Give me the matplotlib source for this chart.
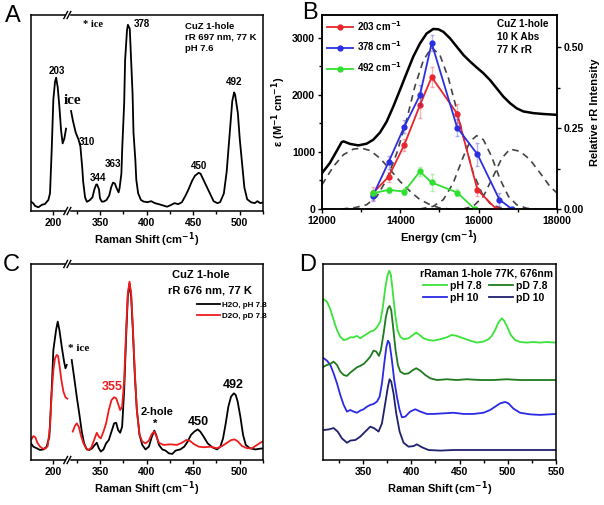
import numpy as np
import matplotlib
matplotlib.use('Agg')
import matplotlib.pyplot as plt
from matplotlib.patches import Rectangle

# ---------------- Panel A: CuZ 1-hole, rR 697 nm, 77 K, pH 7.6 ----------------
# Raman shift (cm-1) and normalised intensity, two pieces around the axis break
a_left_x = [176, 178.5, 180.3, 183.9, 187.5, 191, 194.6, 196.4, 198.2, 200, 201.8, 203, 204.7, 206.5,
            208.3, 210, 211.8, 213.6]
a_left_y = [0.048, 0.039, 0.026, 0.019, 0.031, 0.036, 0.056, 0.09, 0.31, 0.57, 0.66, 0.68, 0.63, 0.53,
            0.41, 0.345, 0.37, 0.42]
a_right_x = [319, 321, 324, 327, 329, 331, 332, 334, 336, 339, 342, 344, 346, 347, 349, 350, 352, 354,
             357, 360, 362, 364, 366, 368, 370, 371, 373, 374, 376, 377, 379, 380, 382, 383, 385, 386,
             388, 389, 391, 394, 397, 401, 405, 409, 413, 418, 422, 426, 430, 434, 438, 442, 445, 449,
             452, 456, 458, 461, 465, 469, 472, 476, 479, 483, 486, 489, 492, 494, 495, 498, 500, 503,
             505, 508, 512, 516, 519, 522, 526]
a_right_y = [0.51, 0.46, 0.40, 0.365, 0.33, 0.22, 0.15, 0.07, 0.047, 0.055, 0.07, 0.11, 0.135, 0.135,
             0.11, 0.065, 0.048, 0.048, 0.056, 0.08, 0.12, 0.145, 0.14, 0.115, 0.095, 0.115, 0.19, 0.33,
             0.55, 0.77, 0.92, 0.95, 0.93, 0.82, 0.6, 0.4, 0.26, 0.16, 0.09, 0.056, 0.048, 0.045, 0.05,
             0.04, 0.035, 0.028, 0.022, 0.03, 0.04, 0.035, 0.045, 0.08, 0.11, 0.155, 0.18, 0.195, 0.19,
             0.16, 0.12, 0.08, 0.05, 0.04, 0.045, 0.09, 0.2, 0.38, 0.56, 0.605, 0.595, 0.5, 0.37, 0.22,
             0.12, 0.06, 0.045, 0.04, 0.05, 0.04, 0.045]

# ---------------- Panel B: absorption, Gaussian bands, rR profiles ----------------
abs_e = [12000, 12200, 12370, 12500, 12550, 12720, 12930, 13140, 13310, 13480, 13650, 13820, 13990,
         14160, 14330, 14500, 14670, 14840, 14970, 15100, 15270, 15440, 15610, 15780, 15950, 16120,
         16290, 16460, 16630, 16800, 16970, 17140, 17400, 17650, 18000]
abs_eps = [630, 805, 1010, 1170, 1185, 1140, 1115, 1145, 1215, 1340, 1530, 1795, 2085, 2380, 2670,
           2900, 3075, 3155, 3150, 3105, 2990, 2845, 2700, 2585, 2480, 2380, 2260, 2115, 1970, 1855,
           1765, 1710, 1680, 1665, 1650]

band1_e = [12000, 12290, 12545, 12800, 13010, 13230, 13480, 13740, 13990, 14250, 14500, 14760, 15010, 15270]
band1_eps = [425, 745, 950, 1050, 1065, 1025, 890, 690, 485, 310, 165, 75, 17, 0]
band2_e = [12500, 12850, 13140, 13400, 13650, 13910, 14160, 14370, 14590, 14800, 15010, 15230, 15440,
           15650, 15860, 16080, 16290, 16550, 16900]
band2_eps = [0, 25, 75, 220, 515, 980, 1560, 2145, 2610, 2830, 2700, 2290, 1740, 1155, 630, 280, 95, 17, 0]
band3_e = [14500, 14840, 15100, 15350, 15610, 15780, 15950, 16120, 16330, 16550, 16760, 16970, 17230, 17500]
band3_eps = [0, 47, 165, 455, 920, 1185, 1285, 1215, 920, 515, 220, 75, 12, 0]
band4_e = [15600, 15860, 16120, 16370, 16590, 16800, 17060, 17310, 17570, 17820, 18000]
band4_eps = [0, 47, 220, 570, 890, 1050, 1010, 865, 630, 395, 280]

rr_e_203 = [13300, 13700, 14100, 14500, 14800, 15450, 15970, 16450]
rr_203 = [0.049, 0.10, 0.198, 0.321, 0.408, 0.295, 0.059, 0.0]
err_203 = [0.02, 0.015, 0.02, 0.04, 0.03, 0.03, 0.02, 0.0]
rr_e_378 = [13300, 13700, 14100, 14500, 14800, 15450, 15970, 16530, 16850]
rr_378 = [0.041, 0.145, 0.254, 0.352, 0.513, 0.252, 0.169, 0.029, 0.0]
err_378 = [0.015, 0.02, 0.02, 0.03, 0.025, 0.025, 0.035, 0.02, 0.0]
rr_e_492 = [13300, 13700, 14100, 14500, 14800, 15450, 15900]
rr_492 = [0.049, 0.059, 0.054, 0.116, 0.082, 0.051, 0.0]
err_492 = [0.01, 0.01, 0.01, 0.015, 0.025, 0.01, 0.0]

# ---------------- Panel C: 676 nm, H2O vs D2O ----------------
c_h2o_left_x = [176, 178.5, 182.1, 185.7, 189.3, 192.8, 195.7, 198.2, 200, 202.9, 204.7, 206.5, 209,
                211.5, 213, 214.4]
c_h2o_left_y = [0.085, 0.068, 0.06, 0.051, 0.054, 0.068, 0.119, 0.357, 0.561, 0.663, 0.706, 0.663,
                0.578, 0.502, 0.468, 0.485]
c_h2o_right_x = [319.7, 322.2, 325.1, 328, 330.5, 333, 335.9, 338.7, 341.6, 344.5, 346.6, 348.8,
                 350.9, 353.8, 356.6, 359.5, 362.4, 365.2, 367.4, 369.5, 371.7, 373.8, 376, 378.1,
                 379.9, 381.7, 383.5, 385.3, 387.5, 389.6, 392.5, 395.4, 398.9, 402.5, 405.7, 408.3,
                 410.4, 413.3, 416.9, 420.4, 424, 427.6, 431.2, 436.2, 440.5, 444.1, 447.7, 451.3,
                 454.9, 457.7, 461.3, 465.6, 470.6, 475.6, 479.2, 482.1, 485, 487.8, 490.7, 493.6,
                 495.7, 497.8, 500.7, 503.6, 506.5, 510.8, 516.9, 522.2, 526.5]
c_h2o_right_y = [0.51, 0.425, 0.323, 0.23, 0.145, 0.085, 0.054, 0.051, 0.06, 0.077, 0.088, 0.06,
                 0.043, 0.054, 0.085, 0.102, 0.145, 0.187, 0.19, 0.153, 0.139, 0.17, 0.357, 0.629,
                 0.833, 0.901, 0.833, 0.663, 0.425, 0.255, 0.128, 0.077, 0.054, 0.068, 0.119, 0.15,
                 0.128, 0.077, 0.054, 0.048, 0.034, 0.031, 0.048, 0.054, 0.068, 0.094, 0.128, 0.145,
                 0.156, 0.145, 0.119, 0.085, 0.065, 0.054, 0.068, 0.11, 0.187, 0.272, 0.323, 0.34,
                 0.332, 0.298, 0.221, 0.128, 0.077, 0.06, 0.054, 0.058, 0.06]
c_d2o_left_x = [176, 178.5, 180.7, 182.8, 185.7, 188.5, 191.4, 193.9, 196.4, 198.2, 200, 201.8,
                203.6, 205, 206.5, 208.6, 210.8, 213, 215]
c_d2o_left_y = [0.102, 0.122, 0.116, 0.088, 0.068, 0.058, 0.058, 0.071, 0.17, 0.34, 0.459, 0.519,
                0.536, 0.531, 0.485, 0.408, 0.349, 0.32, 0.313]
c_d2o_right_x = [320.8, 323, 325.1, 327.3, 329.4, 332.3, 335.1, 338, 340.9, 343.7, 346.6, 348.8,
                 350.9, 353.8, 356.6, 359.5, 362.4, 365.2, 367.4, 369.5, 371.7, 373.8, 376, 378.1,
                 379.9, 381.7, 383.5, 385.3, 387.5, 389.6, 392.5, 395.4, 398.9, 402.5, 405.7, 408.3,
                 410.4, 413.3, 418.3, 425.5, 432.6, 438, 442.6, 446.3, 450.6, 456, 462, 468.5, 475.6,
                 481, 486.4, 491, 494.6, 498.2, 502.5, 507.9, 513.3, 518.6, 522.2, 526.5]
c_d2o_right_y = [0.145, 0.173, 0.187, 0.17, 0.128, 0.085, 0.06, 0.051, 0.065, 0.102, 0.139, 0.119,
                 0.11, 0.145, 0.187, 0.255, 0.306, 0.32, 0.315, 0.286, 0.255, 0.272, 0.408, 0.663,
                 0.85, 0.91, 0.85, 0.68, 0.442, 0.255, 0.128, 0.094, 0.085, 0.099, 0.133, 0.145,
                 0.122, 0.088, 0.077, 0.08, 0.077, 0.088, 0.102, 0.099, 0.082, 0.068, 0.065, 0.068,
                 0.06, 0.071, 0.088, 0.102, 0.105, 0.094, 0.071, 0.06, 0.06, 0.077, 0.088, 0.099]

# ---------------- Panel D: rRaman 1-hole 77K, 676nm (stacked) ----------------
d_ph78_x = [309.2, 312.6, 316.1, 319.5, 323, 326.4, 329.9, 333.3, 336.8, 340.2, 343.7, 347.1, 350.6,
            354, 357.5, 360.9, 364.4, 367.9, 370.6, 373, 375.4, 377.2, 378.9, 381, 383.4, 385.8,
            388.6, 392, 397.2, 401.7, 405.1, 408.6, 412.7, 417.9, 423.1, 430, 436.9, 442, 447.2,
            454.1, 461, 467.9, 474.8, 480, 483.4, 486.9, 490.3, 493.8, 496.2, 499.7, 503.1, 507.6,
            512.8, 519.7, 526.6, 533.5, 540.4, 550]
d_ph78_y = [0.82, 0.808, 0.769, 0.714, 0.663, 0.629, 0.612, 0.616, 0.626, 0.626, 0.633, 0.621, 0.633,
            0.643, 0.655, 0.66, 0.677, 0.706, 0.782, 0.876, 0.944, 0.966, 0.944, 0.85, 0.74, 0.663,
            0.629, 0.616, 0.621, 0.638, 0.65, 0.638, 0.621, 0.612, 0.609, 0.616, 0.626, 0.638, 0.633,
            0.621, 0.609, 0.599, 0.604, 0.616, 0.633, 0.663, 0.701, 0.723, 0.711, 0.677, 0.638, 0.612,
            0.602, 0.599, 0.602, 0.599, 0.602, 0.599]
d_pd78_x = [309.2, 312.6, 316.1, 319.5, 323, 326.4, 329.9, 333.3, 336.8, 340.2, 343.7, 347.1, 350.6,
            354, 357.5, 360.9, 363.7, 366.5, 368.5, 371.3, 373.7, 375.8, 377.5, 379.2, 381.3, 383.7,
            386.1, 388.6, 392.7, 397.2, 401.7, 405.1, 409.3, 414.4, 419.6, 426.5, 436.9, 447.2,
            457.6, 471.4, 485.2, 499, 512.8, 526.6, 550]
d_pd78_y = [0.476, 0.485, 0.49, 0.502, 0.485, 0.451, 0.434, 0.429, 0.446, 0.459, 0.473, 0.48, 0.49,
            0.507, 0.527, 0.558, 0.553, 0.531, 0.561, 0.646, 0.731, 0.774, 0.786, 0.765, 0.672, 0.561,
            0.485, 0.451, 0.439, 0.442, 0.459, 0.468, 0.456, 0.434, 0.417, 0.408, 0.412, 0.408,
            0.412, 0.408, 0.408, 0.412, 0.408, 0.408, 0.408]
d_ph10_x = [309.2, 312.6, 316.1, 319.5, 323, 326.4, 329.9, 333.3, 336.8, 340.2, 343.7, 347.1, 350.6,
            354, 357.5, 360.9, 364.4, 367.2, 369.6, 372, 374.1, 375.8, 377.5, 379.9, 382.3, 385.1,
            387.9, 390.3, 393.7, 398.9, 404.1, 409.3, 416.2, 423.1, 433.4, 443.8, 454.1, 464.5,
            474.8, 481.7, 486.9, 492.1, 497.3, 500.7, 505.9, 512.8, 523.1, 533.5, 550]
d_ph10_y = [0.519, 0.507, 0.485, 0.442, 0.391, 0.332, 0.281, 0.247, 0.255, 0.247, 0.241, 0.252, 0.259,
            0.272, 0.281, 0.286, 0.298, 0.323, 0.391, 0.493, 0.575, 0.609, 0.595, 0.51, 0.408, 0.323,
            0.255, 0.218, 0.221, 0.247, 0.259, 0.247, 0.235, 0.235, 0.238, 0.241, 0.235, 0.235,
            0.241, 0.255, 0.272, 0.289, 0.296, 0.289, 0.262, 0.241, 0.233, 0.23, 0.235]
d_pd10_x = [309.2, 314.4, 319.5, 323.7, 328.2, 333.3, 336.8, 342, 347.1, 352.3, 357.5, 361.6, 366.1,
            369.6, 373, 375.8, 377.5, 379.2, 381.6, 384.4, 387.9, 392, 397.2, 402.4, 405.8, 411,
            417.9, 430, 443.8, 457.6, 471.4, 485.2, 499, 512.8, 526.6, 550]
d_pd10_y = [0.153, 0.156, 0.163, 0.145, 0.11, 0.088, 0.099, 0.102, 0.119, 0.145, 0.17, 0.162, 0.145,
            0.187, 0.289, 0.374, 0.412, 0.4, 0.34, 0.238, 0.145, 0.088, 0.068, 0.071, 0.08, 0.065,
            0.051, 0.048, 0.051, 0.051, 0.051, 0.051, 0.051, 0.051, 0.051, 0.051]

# ---------------- styling ----------------
plt.rcParams['font.family'] = ['Liberation Sans', 'DejaVu Sans']
plt.rcParams['font.weight'] = 'bold'
plt.rcParams['axes.labelweight'] = 'bold'
plt.rcParams['axes.linewidth'] = 1.1
plt.rcParams['xtick.labelsize'] = 7.5
plt.rcParams['ytick.labelsize'] = 7.5
plt.rcParams['axes.labelsize'] = 8
plt.rcParams['mathtext.default'] = 'bf'

W, H = 604, 505
fig = plt.figure(figsize=(W / 100, H / 100), dpi=100)


def box(left, top, right, bottom):
    return [left / W, 1 - bottom / H, (right - left) / W, (bottom - top) / H]


BRK_LO, BRK_HI = 215, 315


def fwd(x):
    x = np.asarray(x, float)
    return np.where(x <= BRK_LO, x, np.where(x >= BRK_HI, x - (BRK_HI - BRK_LO), BRK_LO))


def inv(x):
    x = np.asarray(x, float)
    return np.where(x <= BRK_LO, x, x + (BRK_HI - BRK_LO))


def broken_raman_axis(ax):
    ax.set_xscale('function', functions=(fwd, inv))
    ax.set_xlim(176, 525)
    ax.set_ylim(0, 1)
    ax.set_xticks([200, 350, 400, 450, 500])
    ax.set_xticks([325, 375, 425, 475, 525], minor=True)
    ax.set_yticks([])
    ax.tick_params(axis='x', which='major', direction='out', length=3, width=1, pad=2)
    ax.tick_params(axis='x', which='minor', direction='out', length=2, width=1)
    ax.set_xlabel('Raman Shift (cm$^{-1}$)', labelpad=2)
    # the // marks on the broken axis
    xb = (BRK_LO - 176) / (525 - (BRK_HI - BRK_LO) - 176)
    for yb in (0, 1):
        ax.add_patch(Rectangle((xb - 0.006, yb - 0.012), 0.012, 0.024, transform=ax.transAxes,
                               color='white', clip_on=False, zorder=5))
        for dx in (-0.007, 0.007):
            ax.plot([xb + dx - 0.008, xb + dx + 0.008], [yb - 0.018, yb + 0.018], color='k', lw=1,
                    transform=ax.transAxes, clip_on=False, zorder=6)


serif = ['Liberation Serif', 'DejaVu Serif']
LW = 1.3

# ---- A ----
ax = fig.add_axes(box(31, 15, 263, 211))
broken_raman_axis(ax)
ax.plot(a_left_x, a_left_y, color='k', lw=LW)
ax.plot(a_right_x, a_right_y, color='k', lw=LW)
ax.text(0.223, 0.949, '* ice', transform=ax.transAxes, family=serif, fontsize=7.5, va='center')
ax.text(0.444, 0.954, '378', transform=ax.transAxes, fontsize=7, va='center')
ax.text(0.664, 0.965, 'CuZ 1-hole\nrR 697 nm, 77 K\npH 7.6', transform=ax.transAxes, fontsize=6.8,
        va='top', linespacing=1.3)
ax.text(0.11, 0.714, '203', transform=ax.transAxes, fontsize=7, ha='center', va='center')
ax.text(0.177, 0.566, 'ice', transform=ax.transAxes, family=serif, fontsize=11, ha='center', va='center')
ax.text(0.241, 0.352, '310', transform=ax.transAxes, fontsize=7, ha='center', va='center')
ax.text(0.29, 0.168, '344', transform=ax.transAxes, fontsize=7, ha='center', va='center')
ax.text(0.355, 0.24, '363', transform=ax.transAxes, fontsize=7, ha='center', va='center')
ax.text(0.724, 0.23, '450', transform=ax.transAxes, fontsize=7, ha='center', va='center')
ax.text(0.874, 0.658, '492', transform=ax.transAxes, fontsize=7, ha='center', va='center')

# ---- B ----
axb = fig.add_axes(box(322, 15, 557, 209))
axb.plot(abs_e, abs_eps, color='k', lw=1.8)
for be, bv in ((band1_e, band1_eps), (band2_e, band2_eps), (band3_e, band3_eps), (band4_e, band4_eps)):
    axb.plot(be, bv, color='#444444', lw=1.2, dashes=(4, 3))
axb.set_xlim(12000, 18000)
axb.set_ylim(0, 3400)
axb.set_xticks([12000, 14000, 16000, 18000])
axb.set_xticks([13000, 15000, 17000], minor=True)
axb.set_yticks([0, 1000, 2000, 3000])
axb.set_yticks([500, 1500, 2500], minor=True)
axb.tick_params(which='major', direction='out', length=3, width=1, pad=2)
axb.tick_params(which='minor', direction='out', length=2, width=1)
axb.set_xlabel('Energy (cm$^{-1}$)', labelpad=2)
axb.set_ylabel('ε (M$^{-1}$ cm$^{-1}$)', labelpad=3)

axr = axb.twinx()
axr.set_ylim(0, 0.6)
axr.set_yticks([0, 0.25, 0.5])
axr.set_yticklabels(['0.00', '0.25', '0.50'])
axr.set_yticks([0.125, 0.375], minor=True)
axr.tick_params(which='major', direction='out', length=3, width=1, pad=2)
axr.tick_params(which='minor', direction='out', length=2, width=1)
axr.set_ylabel('Relative rR Intensity', labelpad=4)
for ex, vals, err, col, lab in ((rr_e_203, rr_203, err_203, '#e8262b', '203 cm$^{-1}$'),
                                (rr_e_378, rr_378, err_378, '#2b2fe0', '378 cm$^{-1}$'),
                                (rr_e_492, rr_492, err_492, '#2ee02e', '492 cm$^{-1}$')):
    axr.errorbar(ex, vals, yerr=err, fmt='none', ecolor=col, alpha=0.35, elinewidth=1, capsize=1.5)
    axr.plot(ex, vals, color=col, lw=1.3, marker='o', ms=3.5, label=lab)
axr.legend(loc='upper left', bbox_to_anchor=(0.021, 0.979), frameon=False, fontsize=7,
           borderpad=0, borderaxespad=0, handlelength=2.7, handletextpad=0.4, labelspacing=0.7)
axr.text(0.743, 0.979, 'CuZ 1-hole\n10 K Abs\n77 K rR', transform=axr.transAxes, fontsize=7.2,
         va='top', linespacing=1.35)

# ---- C ----
axc = fig.add_axes(box(31, 264, 263, 460))
broken_raman_axis(axc)
axc.plot(c_h2o_left_x, c_h2o_left_y, color='k', lw=LW)
axc.plot(c_h2o_right_x, c_h2o_right_y, color='k', lw=LW, label='H2O, pH 7.8')
axc.plot(c_d2o_left_x, c_d2o_left_y, color='#ee1c1c', lw=LW)
axc.plot(c_d2o_right_x, c_d2o_right_y, color='#ee1c1c', lw=LW, label='D2O, pD 7.8')
axc.legend(loc='upper left', bbox_to_anchor=(0.716, 0.811), frameon=False, fontsize=5.8,
           borderpad=0, borderaxespad=0, handlelength=2.8, handletextpad=0.3, labelspacing=0.45)
axc.text(0.606, 0.944, 'CuZ 1-hole', transform=axc.transAxes, fontsize=8, va='center')
axc.text(0.59, 0.867, 'rR 676 nm, 77 K', transform=axc.transAxes, fontsize=8, va='center')
axc.text(0.16, 0.571, '* ice', transform=axc.transAxes, family=serif, fontsize=8, va='center')
axc.text(0.351, 0.374, '355', transform=axc.transAxes, fontsize=9, color='#ee1c1c', ha='center',
         va='center')
axc.text(0.543, 0.245, '2-hole', transform=axc.transAxes, fontsize=8, ha='center', va='center')
axc.text(0.534, 0.185, '*', transform=axc.transAxes, fontsize=8, ha='center', va='center')
axc.text(0.72, 0.195, '450', transform=axc.transAxes, fontsize=9, ha='center', va='center')
axc.text(0.871, 0.383, '492', transform=axc.transAxes, fontsize=9, ha='center', va='center')

# ---- D ----
axd = fig.add_axes(box(323, 264, 556, 460))
axd.plot(d_ph78_x, d_ph78_y, color='#3ae23a', lw=LW, label='pH 7.8')
axd.plot(d_ph10_x, d_ph10_y, color='#2a2ae6', lw=LW, label='pH 10')
axd.plot(d_pd78_x, d_pd78_y, color='#1f7a1f', lw=LW, label='pD 7.8')
axd.plot(d_pd10_x, d_pd10_y, color='#20206e', lw=LW, label='pD 10')
axd.set_xlim(308.5, 550)
axd.set_ylim(0, 1)
axd.set_xticks([350, 400, 450, 500, 550])
axd.set_xticks([325, 375, 425, 475, 525], minor=True)
axd.set_yticks([])
axd.tick_params(axis='x', which='major', direction='out', length=3, width=1, pad=2)
axd.tick_params(axis='x', which='minor', direction='out', length=2, width=1)
axd.set_xlabel('Raman Shift (cm$^{-1}$)', labelpad=2)
axd.text(0.416, 0.949, 'rRaman 1-hole 77K, 676nm', transform=axd.transAxes, fontsize=7.5, va='center')
axd.legend(loc='upper left', bbox_to_anchor=(0.429, 0.913), ncol=2, frameon=False, fontsize=7.5,
           borderpad=0, borderaxespad=0, handlelength=2.3, handletextpad=0.3, labelspacing=0.2,
           columnspacing=0.7)

# panel letters
for lx, ly, letter in ((13, 16, 'A'), (310, 13, 'B'), (11, 265, 'C'), (308, 265, 'D')):
    fig.text(lx / W, 1 - ly / H, letter, fontsize=17, fontweight='normal', ha='center', va='center')

fig.savefig('out.png', dpi=100)
